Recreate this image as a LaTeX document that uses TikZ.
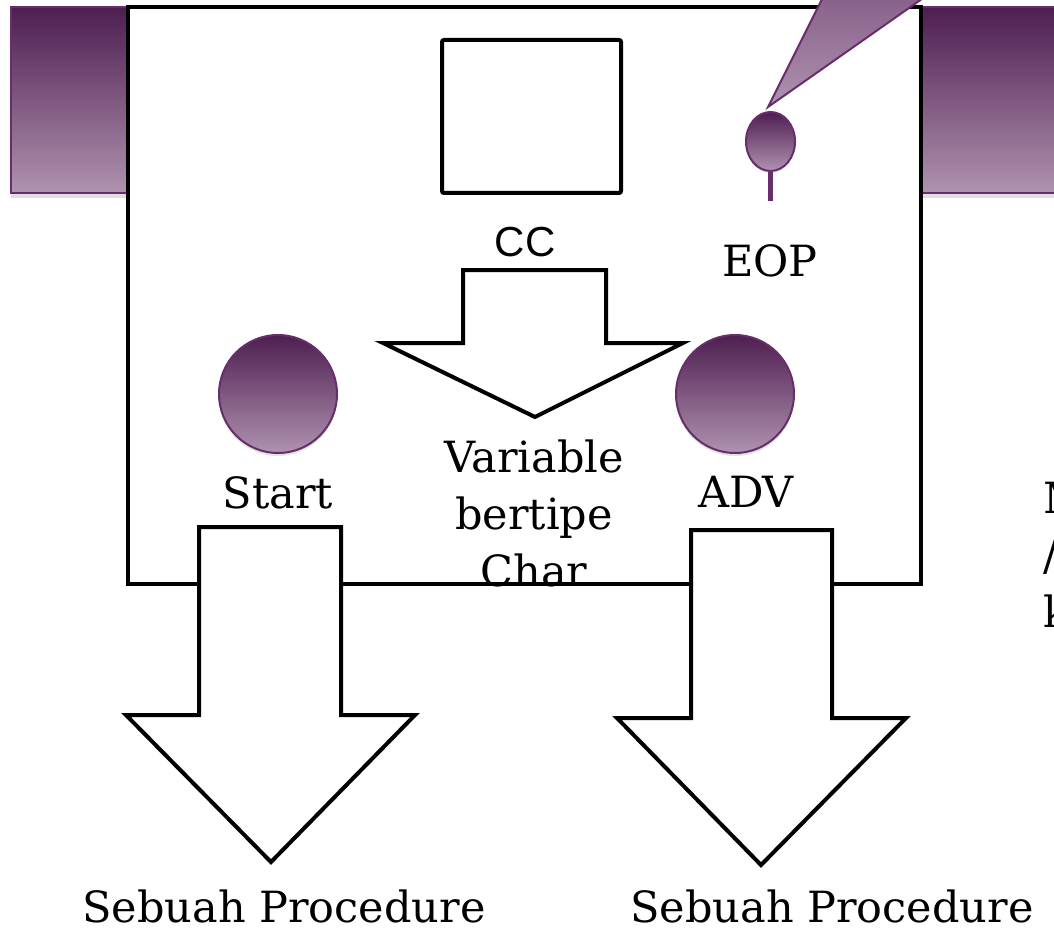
\documentclass[tikz,border=0pt]{standalone}
\usepackage{fontspec}
\setmainfont{DejaVu Serif}
\newfontfamily\ccfont{Liberation Sans}
\usetikzlibrary{shadows,shapes.geometric}
\definecolor{pdark}{RGB}{78,30,80}
\definecolor{pmid}{RGB}{150,112,152}
\definecolor{plight}{RGB}{175,146,176}
\definecolor{pedge}{RGB}{104,46,108}
\tikzset{
  outline/.style={draw=black, line width=4pt, fill=white, line join=miter},
  purpleshade/.style={draw=pedge, line width=2pt, top color=pdark, bottom color=plight},
  ball/.style={purpleshade, circle, inner sep=0pt, minimum size=118pt,
    drop shadow={opacity=0.22, shadow xshift=0pt, shadow yshift=-3pt}},
  lbl/.style={font=\fontsize{43}{57}\selectfont, text=black, inner sep=0pt},
}
\begin{document}
\begin{tikzpicture}[x=1pt,y=1pt]
\useasboundingbox (0,0) rectangle (1054,-928);
\clip (0,0) rectangle (1054,-928);
% banner
\path[purpleshade, drop shadow={opacity=0.25, shadow xshift=0pt, shadow yshift=-5pt}]
  (11,-7) rectangle (1075,-193);
% main box
\draw[outline] (128,-7) rectangle (921,-584);
% callout pointer
\path[draw=pedge, line width=2pt, top color=pmid!70!pdark, bottom color=plight, line join=miter]
  (768,-107) -- (834,25) -- (956,25) -- cycle;
% CC square
\draw[outline, rounded corners=2pt] (442,-40) rectangle (621,-193);
\node[lbl, font=\ccfont\fontsize{42}{50}\selectfont] (cc) at (525,-242) {CC};
% EOP pin
\node[purpleshade, ellipse, minimum width=49pt, minimum height=59pt, inner sep=0pt,
  drop shadow={opacity=0.2, shadow xshift=0pt, shadow yshift=-2pt}] (eop) at (770.5,-141.5) {};
\coordinate (eopstem) at (770.5,-201);
\draw[pedge, line width=5pt] (eop.south) -- (eopstem);
\node[lbl] (eoplbl) at (770,-261) {EOP};
% middle block arrow
\draw[outline] (463,-270) -- (606,-270) -- (606,-343) -- (683,-343) -- (535,-417)
  -- (383,-343) -- (463,-343) -- cycle;
% balls
\node[ball] (start) at (278,-394) {};
\node[ball] (adv) at (735,-394) {};
\node[lbl] (startlbl) at (278,-493) {Start};
\node[lbl] (advlbl) at (746,-492) {ADV};
% lower block arrows
\draw[outline] (199,-527) -- (341,-527) -- (341,-715) -- (415,-715) -- (271,-862)
  -- (126,-715) -- (199,-715) -- cycle;
\draw[outline] (691,-530) -- (832,-530) -- (832,-718) -- (906,-718) -- (761,-865)
  -- (617,-718) -- (691,-718) -- cycle;
\node[lbl, align=center, anchor=north] (var) at (534,-440) {Variable\\bertipe\\Char};
\node[lbl, anchor=base] (proc1) at (284,-922) {Sebuah Procedure};
\node[lbl, anchor=base] (proc2) at (832,-922) {Sebuah Procedure};
\node[lbl, align=left, anchor=north west] (side) at (1043,-482) {M\\/\\k};
\end{tikzpicture}
\end{document}
